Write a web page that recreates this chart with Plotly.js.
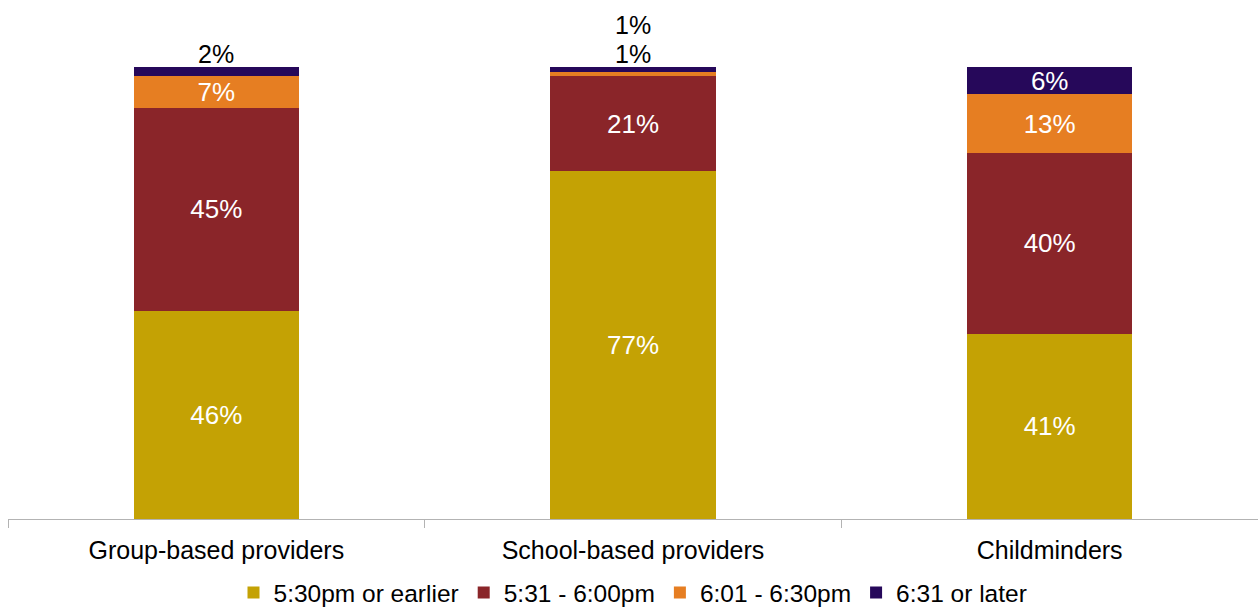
<!DOCTYPE html>
<html>
<head>
<meta charset="utf-8">
<script src="https://cdn.plot.ly/plotly-3.0.1.min.js"></script>
<style>html,body{margin:0;padding:0;background:#fff;}#chart{width:1258px;height:610px;}</style>
</head>
<body>
<div id="chart"></div>
<script>
var categories = ["Group-based providers", "School-based providers", "Childminders"];
var seriesNames = ["5:30pm or earlier", "5:31 - 6:00pm", "6:01 - 6:30pm", "6:31 or later"];
var earlier = [46, 77, 41];
var s531_600 = [45, 21, 40];
var s601_630 = [7, 1, 13];
var later = [2, 1, 6];
var colors = ["#C4A204", "#8A2529", "#E67E22", "#26085A"];

var seriesValues = [earlier, s531_600, s601_630, later];
var FONT = "Liberation Sans, Arial, sans-serif";
var smallLimit = 3;

var traces = seriesValues.map(function (vals, i) {
  return {
    type: "bar",
    name: seriesNames[i],
    x: categories,
    y: vals,
    text: vals.map(function (v) { return v >= smallLimit ? v + "%" : ""; }),
    textposition: "inside",
    insidetextanchor: "middle",
    constraintext: "none",
    textfont: {color: "#FFFFFF", size: 26, family: FONT},
    marker: {color: colors[i], line: {width: 0}},
    hoverinfo: "skip"
  };
});

var annotations = [];
categories.forEach(function (cat, ci) {
  var total = 0;
  seriesValues.forEach(function (vals) { total += vals[ci]; });
  var k = 0;
  seriesValues.forEach(function (vals) {
    var v = vals[ci];
    if (v < smallLimit) {
      annotations.push({
        x: cat, y: total, xref: "x", yref: "y",
        text: v + "%", showarrow: false,
        yanchor: "bottom", yshift: -3 + k * 29,
        font: {size: 25, color: "#000000", family: FONT}
      });
      k++;
    }
  });
});

var layout = {
  width: 1258, height: 610,
  margin: {l: 8, r: 0, t: 67, b: 91, autoexpand: false},
  barmode: "stack",
  bargap: 0.603,
  paper_bgcolor: "#FFFFFF",
  plot_bgcolor: "#FFFFFF",
  font: {family: FONT, size: 25, color: "#000000"},
  showlegend: true,
  legend: {
    orientation: "h", x: 0.5, xanchor: "center", y: -0.113, yanchor: "top",
    font: {size: 24.5, family: FONT, color: "#000000"},
    traceorder: "normal", itemwidth: 30
  },
  xaxis: {
    type: "category",
    showline: true, linecolor: "#B3B3B3", linewidth: 1,
    ticks: "outside", tickson: "boundaries", ticklen: 8, tickcolor: "#B3B3B3",
    ticklabelstandoff: 9,
    tickfont: {size: 25, family: FONT, color: "#000000"},
    showgrid: false, zeroline: false, fixedrange: true
  },
  yaxis: {
    range: [0, 100], visible: false, showgrid: false, zeroline: false, fixedrange: true
  },
  annotations: annotations
};

Plotly.newPlot("chart", traces, layout, {displayModeBar: false, staticPlot: true});
</script>
</body>
</html>
